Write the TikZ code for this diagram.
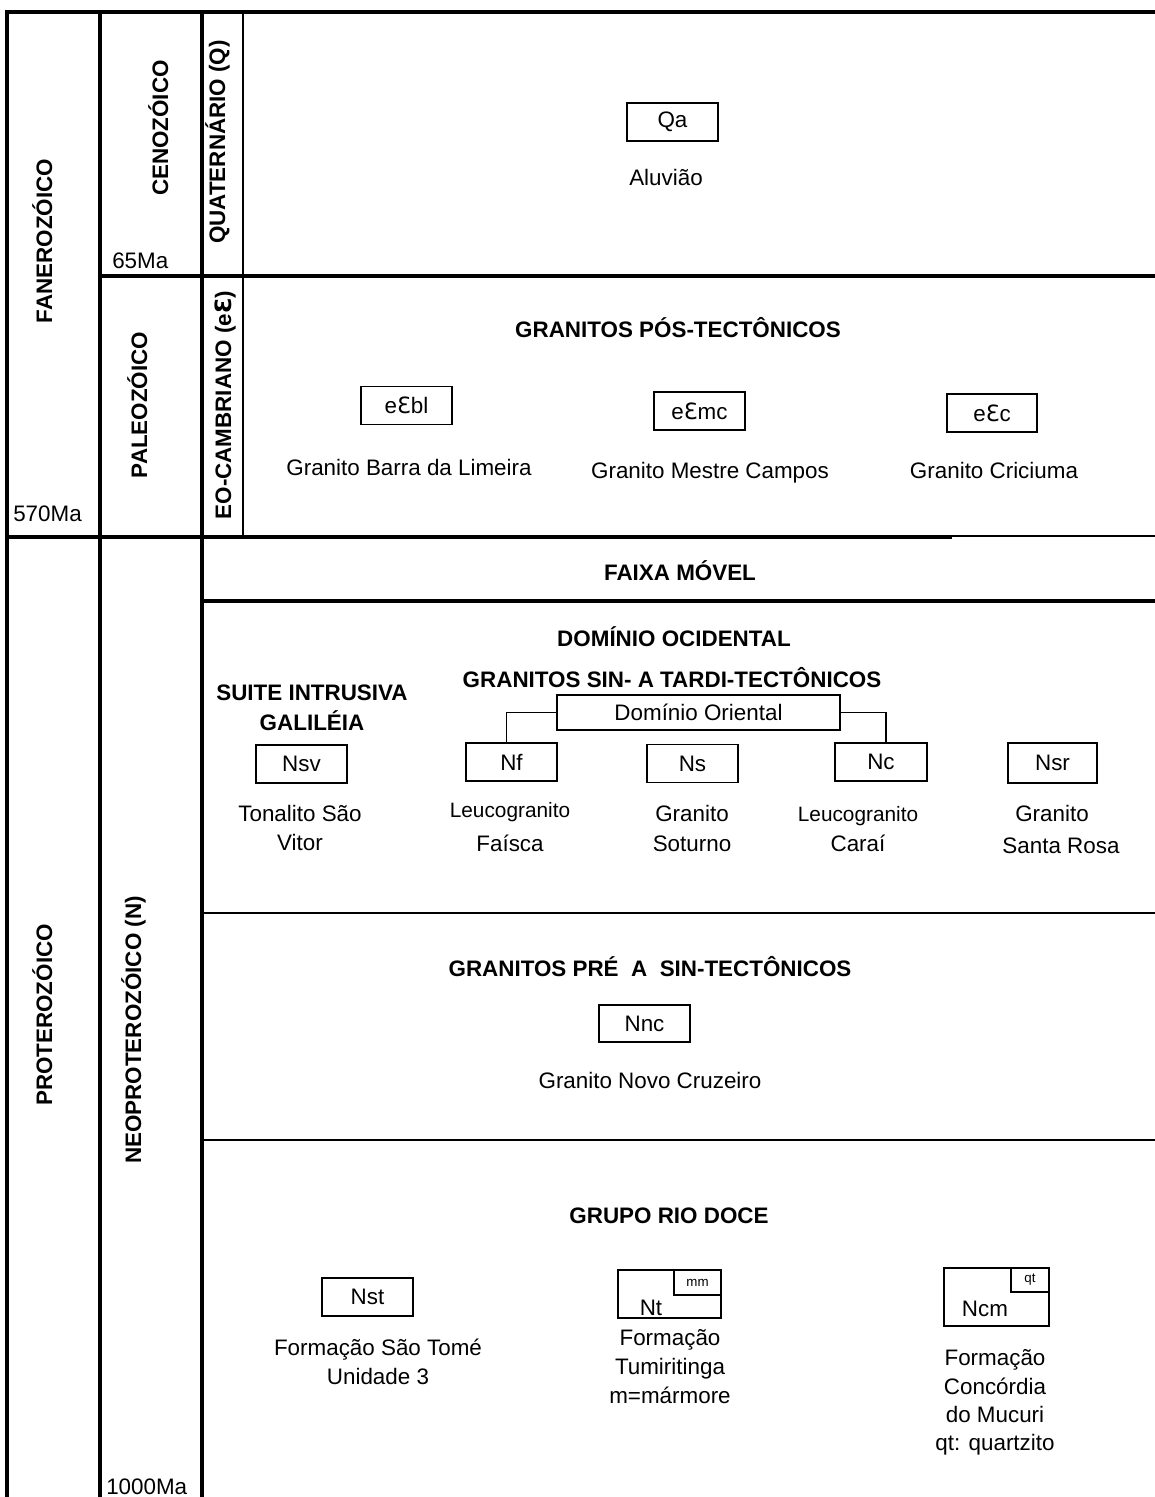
\documentclass[tikz,border=0pt]{standalone}
\usepackage{fontspec}
\setmainfont{Liberation Sans}
\newfontfamily\epsfont{DejaVu Sans}
\newcommand\cambE{{\epsfont Ɛ}}
\newcommand\fsz{\fontsize{16.8pt}{20pt}\selectfont}
\newcommand\fsm{\fontsize{15.6pt}{19pt}\selectfont}
\newcommand\fsx{\fontsize{10pt}{12pt}\selectfont}
\tikzset{
  frame/.style={line width=2.4pt},
  midline/.style={line width=2pt},
  thinline/.style={line width=1.1pt},
  box/.style={draw, line width=0.95pt, minimum width=68.25pt, minimum height=28.5pt, inner sep=0pt, font=\fsz},
  txt/.style={inner sep=0pt, anchor=base, font=\fsz},
  btxt/.style={inner sep=0pt, anchor=base, font=\fsz\bfseries},
  vtxt/.style={btxt, rotate=90},
  link/.style={line width=0.95pt}
}
\begin{document}
\begin{tikzpicture}[x=0.75pt,y=-0.75pt]
\useasboundingbox (0,0) rectangle (1155,1497);
\clip (0,0) rectangle (1155,1497);
% frame lines
\draw[frame] (7,1500) -- (7,12) -- (1160,12);
\draw[frame] (100,12) -- (100,1500);
\draw[frame] (202,12) -- (202,1500);
\draw[midline] (243,12) -- (243,537);
\draw[frame] (100,276) -- (1160,276);
\draw[frame] (7,537) -- (952,537);
\draw[thinline] (950,536) -- (1160,536);
\draw[frame] (202,601) -- (1160,601);
\draw[thinline] (202,913) -- (1160,913);
\draw[thinline] (202,1140) -- (1160,1140);

% rotated headers
\node[vtxt] (fan) at (52,241) {FANEROZÓICO};
\node[vtxt] (ceno) at (168,128) {CENOZÓICO};
\node[vtxt] (quat) at (225,142) {QUATERNÁRIO (Q)};
\node[vtxt] (paleo) at (147,405) {PALEOZÓICO};
\node[vtxt] (eocamb) at (231,405) {EO-CAMBRIANO (e\cambE)};
\node[vtxt] (prot) at (52,1015) {PROTEROZÓICO};
\node[vtxt] (neop) at (141,1030) {NEOPROTEROZÓICO (N)};

% ages
\node[txt, anchor=base west] (a65) at (112,268) {65Ma};
\node[txt, anchor=base west] (a570) at (13,521) {570Ma};
\node[txt, anchor=base west] (a1000) at (106,1494) {1000Ma};

% Quaternary
\node[box] (qa) at (672.5,122) {Qa};
\node[txt] (aluv) at (666,185) {Aluvião};

% Eo-Cambrian
\node[btxt] (gpos) at (678,337) {GRANITOS PÓS-TECTÔNICOS};
\node[box] (ebl) at (406.5,405.5) {e\cambE bl};
\node[box] (emc) at (699.5,411) {e\cambE mc};
\node[box, minimum width=67.5pt] (ec) at (992,413) {e\cambE c};
\node[txt] (gbl) at (409,475) {Granito Barra da Limeira};
\node[txt] (gmc) at (710,478) {Granito Mestre Campos};
\node[txt] (gcr) at (994,478) {Granito Criciuma};

% Faixa movel
\node[btxt] (faixa) at (680,580) {FAIXA MÓVEL};
\node[btxt] (docid) at (674,646) {DOMÍNIO OCIDENTAL};
\node[btxt] (gsin) at (672,687) {GRANITOS SIN- A TARDI-TECTÔNICOS};
\node[btxt] (suite1) at (312,700) {SUITE INTRUSIVA};
\node[btxt] (suite2) at (312,730) {GALILÉIA};

\node[box, minimum width=212.25pt, minimum height=26.25pt] (dom) at (698.5,712.5) {Domínio Oriental};
\node[box] (nsv) at (301.5,764) {Nsv};
\node[box] (nf) at (511.5,762) {Nf};
\node[box] (ns) at (692.5,763.5) {Ns};
\node[box, minimum width=69pt] (nc) at (881,762) {Nc};
\node[box, minimum width=66.75pt, minimum height=30pt] (nsr) at (1052.5,763) {Nsr};
\draw[link] (dom.west) -| ([xshift=-3.5pt]nf.north);
\draw[link] (dom.east) -| ([xshift=3.75pt]nc.north);

\node[txt] (tsv1) at (300,821) {Tonalito São};
\node[txt] (tsv2) at (300,850) {Vitor};
\node[txt, font=\fsm] (lf1) at (510,817) {Leucogranito};
\node[txt] (lf2) at (510,851) {Faísca};
\node[txt] (gs1) at (692,821) {Granito};
\node[txt] (gs2) at (692,851) {Soturno};
\node[txt, font=\fsm] (lc1) at (858,821) {Leucogranito};
\node[txt] (lc2) at (858,851) {Caraí};
\node[txt] (gsr1) at (1052,821) {Granito};
\node[txt] (gsr2) at (1061,853) {Santa Rosa};

% Pre a sin
\node[btxt] (gpre) at (650,976) {GRANITOS PRÉ\ \ A\ \ SIN-TECTÔNICOS};
\node[box, minimum height=27.75pt] (nnc) at (644.5,1023.5) {Nnc};
\node[txt] (gnc) at (650,1088) {Granito Novo Cruzeiro};

% Rio Doce
\node[btxt] (grd) at (669,1223) {GRUPO RIO DOCE};
\node[box] (nst) at (367.5,1297) {Nst};
\node[txt] (fst1) at (378,1355) {Formação São Tomé};
\node[txt] (fst2) at (378,1384) {Unidade 3};

\node[box, minimum width=77.25pt, minimum height=36pt] (nt) at (669.5,1294) {};
\node[box, minimum width=35.25pt, minimum height=18.75pt, font=\fsx, anchor=north east] (mm) at (nt.north east) {mm};
\node[txt] (ntl) at (651,1315) {Nt};
\node[txt] (ft1) at (670,1345) {Formação};
\node[txt] (ft2) at (670,1374) {Tumiritinga};
\node[txt] (ft3) at (670,1403) {m=mármore};

\node[box, minimum width=78.75pt, minimum height=43.5pt] (ncm) at (996.5,1297) {};
\node[box, minimum width=28.5pt, minimum height=18pt, font=\fsx, anchor=north east] (qt) at (ncm.north east) {qt};
\node[txt] (ncml) at (985,1316) {Ncm};
\node[txt] (fc1) at (995,1365) {Formação};
\node[txt] (fc2) at (995,1394) {Concórdia};
\node[txt] (fc3) at (995,1422) {do Mucuri};
\node[txt] (fc4) at (995,1450) {qt: quartzito};
\end{tikzpicture}
\end{document}
